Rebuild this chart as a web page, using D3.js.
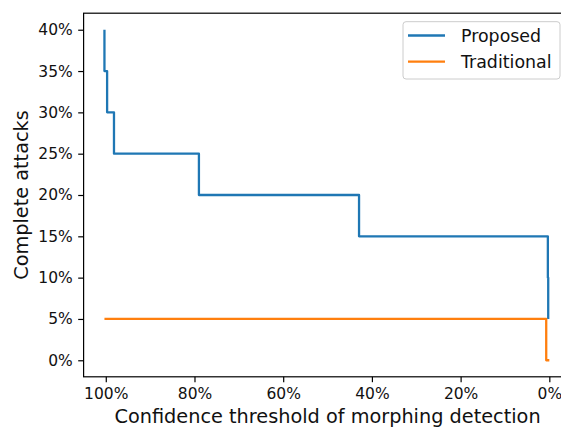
<!DOCTYPE html>
<html>
<head>
<meta charset="utf-8">
<script src="https://d3js.org/d3.v7.min.js"></script>
<style>
  html, body { margin: 0; padding: 0; background: #fff; }
  svg { display: block; font-family: "DejaVu Sans", sans-serif; }
</style>
</head>
<body>
<svg id="chart" width="561" height="427"></svg>
<script>
// ---- data ----
const seriesNames = ["Proposed", "Traditional"];
const seriesColors = ["#1f77b4", "#ff7f0e"];
// confidence threshold (%) and complete-attack rate (%), step (post) curves
const proposedThreshold = [100.3, 100.3, 99.7, 98.15, 79.0, 42.9, 0.33, 0.25];
const proposedRate      = [40,    35,    30,   25,    20,   15,   10,   5];
const traditionalThreshold = [100.3, 0.7, 0.0];
const traditionalRate      = [5,     0,   0];
const xTicks = [100, 80, 60, 40, 20, 0];
const yTicks = [0, 5, 10, 15, 20, 25, 30, 35, 40];
const xLabel = "Confidence threshold of morphing detection";
const yLabel = "Complete attacks";

// ---- layout ----
const svg = d3.select("#chart");
const pLeft = 83.6, pRight = 571.5, pTop = 13.2, pBottom = 376.8;
const x = d3.scaleLinear().domain([105, -5]).range([pLeft, pRight]);
const y = d3.scaleLinear().domain([-2, 42]).range([pBottom, pTop]);
const tickFont = 15.5, labelFont = 19.3, legendFont = 17.4;

svg.append("defs").append("clipPath").attr("id", "plotclip")
  .append("rect").attr("x", pLeft).attr("y", pTop)
  .attr("width", pRight - pLeft).attr("height", pBottom - pTop);

const line = d3.line().x(d => x(d[0])).y(d => y(d[1])).curve(d3.curveStepAfter);
const series = [
  d3.zip(proposedThreshold, proposedRate),
  d3.zip(traditionalThreshold, traditionalRate)
];

const plot = svg.append("g").attr("clip-path", "url(#plotclip)");
series.forEach((s, i) => {
  plot.append("path").datum(s)
    .attr("d", line)
    .attr("fill", "none")
    .attr("stroke", seriesColors[i])
    .attr("stroke-width", 2.3)
    .attr("stroke-linejoin", "round");
});

// axes
const xAxis = d3.axisBottom(x).tickValues(xTicks).tickFormat(d => d + "%")
  .tickSize(5.4).tickPadding(5.4);
const yAxis = d3.axisLeft(y).tickValues(yTicks).tickFormat(d => d + "%")
  .tickSize(5.4).tickPadding(5.4);

const gx = svg.append("g").attr("transform", `translate(0,${pBottom})`).call(xAxis);
const gy = svg.append("g").attr("transform", `translate(${pLeft},0)`).call(yAxis);
[gx, gy].forEach(g => {
  g.select(".domain").remove();
  g.selectAll(".tick line").attr("stroke", "#000").attr("stroke-width", 1.2);
  g.selectAll(".tick text").attr("fill", "#111")
    .style("font-size", tickFont + "px").style("font-family", "DejaVu Sans");
});

// spines
svg.append("rect")
  .attr("x", pLeft).attr("y", pTop)
  .attr("width", pRight - pLeft).attr("height", pBottom - pTop)
  .attr("fill", "none").attr("stroke", "#000").attr("stroke-width", 1.2);

// axis labels
svg.append("text")
  .attr("x", (x(100) + x(0)) / 2).attr("y", 423)
  .attr("text-anchor", "middle")
  .style("font-size", labelFont + "px")
  .attr("fill", "#111")
  .text(xLabel);
svg.append("text")
  .attr("transform", `translate(28,${(pTop + pBottom) / 2}) rotate(-90)`)
  .attr("text-anchor", "middle")
  .style("font-size", labelFont + "px")
  .attr("fill", "#111")
  .text(yLabel);

// legend
const lg = svg.append("g");
lg.append("rect")
  .attr("x", 403).attr("y", 21.7).attr("width", 157).attr("height", 57.3)
  .attr("rx", 3).attr("ry", 3)
  .attr("fill", "#fff").attr("fill-opacity", 0.8)
  .attr("stroke", "#cccccc").attr("stroke-width", 1);
const legendY = [35.5, 61.7];
seriesNames.forEach((name, i) => {
  lg.append("line")
    .attr("x1", 408).attr("x2", 445)
    .attr("y1", legendY[i]).attr("y2", legendY[i])
    .attr("stroke", seriesColors[i]).attr("stroke-width", 2.3);
  lg.append("text")
    .attr("x", 461).attr("y", legendY[i]).attr("dy", "0.36em")
    .style("font-size", legendFont + "px").attr("fill", "#111")
    .text(name);
});
</script>
</body>
</html>
